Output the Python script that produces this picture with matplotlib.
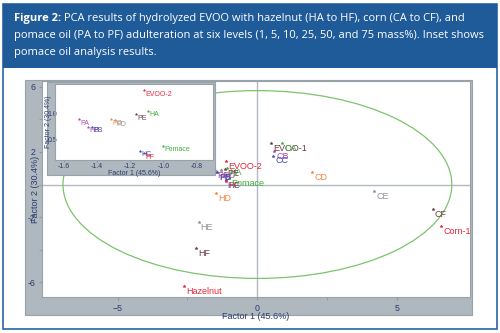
import matplotlib
matplotlib.use('Agg')
import matplotlib.pyplot as plt
from matplotlib.patches import Rectangle, Ellipse

plt.rcParams['font.family'] = ['Liberation Sans', 'DejaVu Sans']

# colours used by the source chart
RED = '#e8243c'
GREEN = '#3fae3a'
MAGENTA = '#b04aa8'
BLUE = '#3652b8'
ORANGE = '#f28540'
GREY = '#8b939c'
MAROON = '#6e3b4c'

# samples that fall in the pomace cluster (shown in main plot and in the inset)
cluster_labels = ['EVOO-2', 'HA', 'PE', 'PC', 'PD', 'PA', 'HB', 'PB', 'HC', 'PF', 'Pomace']
cluster_x = [-1.115, -1.09, -1.166, -1.317, -1.295, -1.51, -1.455, -1.43, -1.14, -1.12, -1.00]
cluster_y = [1.44, 1.04, 0.98, 0.88, 0.86, 0.88, 0.74, 0.74, 0.275, 0.23, 0.37]
cluster_colors = [RED, GREEN, MAROON, ORANGE, GREY, MAGENTA, MAGENTA, BLUE, BLUE, RED, GREEN]

# remaining samples, main plot only
other_labels = ['EVOO-1', 'CA', 'CB', 'CC', 'CD', 'CE', 'CF', 'Corn-1',
                'HD', 'HE', 'HF', 'Hazelnut']
other_x = [0.49, 0.88, 0.61, 0.56, 1.95, 4.18, 6.27, 6.57, -1.48, -2.10, -2.18, -2.63]
other_y = [2.54, 2.55, 2.03, 1.77, 0.77, -0.41, -1.52, -2.54, -0.55, -2.30, -3.90, -6.24]
other_colors = [MAROON, GREEN, MAGENTA, BLUE, ORANGE, GREY, MAROON, RED,
                ORANGE, GREY, MAROON, RED]

# 95% confidence ellipse semi-axes
ell_a, ell_b = 6.95, 5.76

main_xticks = [-5, 0, 5]
main_yticks = [6, 2, -2, -6]
inset_xticks = [-1.6, -1.4, -1.2, -1.0, -0.8]
inset_yticks = [1.0, 0.5]

title_bold = 'Figure 2:'
title_lines = [' PCA results of hydrolyzed EVOO with hazelnut (HA to HF), corn (CA to CF), and',
               'pomace oil (PA to PF) adulteration at six levels (1, 5, 10, 25, 50, and 75 mass%). Inset shows',
               'pomace oil analysis results.']

W, H = 500, 333
fig = plt.figure(figsize=(W / 100, H / 100), dpi=100)


def fx(px):
    return px / W


def fy(py):
    return 1 - py / H


NAVY = '#2a3b6e'
BAND = '#afb8be'
TFONT = ['Open Sans', 'DejaVu Sans']
TSIZE = 8.05

# outer blue frame + header
fig.patches.append(Rectangle((fx(3), fy(329)), fx(494), 325 / H, transform=fig.transFigure,
                             facecolor='white', edgecolor='#2b64a8', lw=1.2, zorder=0))
fig.patches.append(Rectangle((fx(3), fy(68)), fx(494), 64 / H, transform=fig.transFigure,
                             facecolor='#1f5a99', edgecolor='none', zorder=0))

# title text
t = fig.text(fx(14), fy(19), title_bold, color='white', fontsize=TSIZE, fontweight='bold',
             va='center', ha='left', family=TFONT)
fig.canvas.draw()
bb = t.get_window_extent(fig.canvas.get_renderer())
fig.text(bb.x1 / W, fy(19), title_lines[0], color='white', fontsize=TSIZE, va='center',
         ha='left', family=TFONT)
fig.text(fx(14), fy(35.5), title_lines[1], color='white', fontsize=TSIZE, va='center',
         ha='left', family=TFONT)
fig.text(fx(14), fy(52), title_lines[2], color='white', fontsize=TSIZE, va='center',
         ha='left', family=TFONT)

# grey frame behind main axes
fig.patches.append(Rectangle((fx(25), fy(315)), fx(447), 235 / H, transform=fig.transFigure,
                             facecolor=BAND, edgecolor='#98a2a9', lw=0.8, zorder=1))

# main axes
ax = fig.add_axes([fx(42), fy(297), fx(428), 216 / H])
ax.set_zorder(2)
ax.set_facecolor('white')
ax.set_xlim(-7.7, 7.6)
ax.set_ylim(-6.9, 6.35)
ax.axhline(0, color='#b3bbc2', lw=1, zorder=1)
ax.axvline(0, color='#b3bbc2', lw=1, zorder=1)
ax.add_patch(Ellipse((0, 0), 2 * ell_a, 2 * ell_b, facecolor='none', edgecolor='#7cc36c',
                     lw=0.9, zorder=2))

for xs, ys, labs, cols in [(other_x, other_y, other_labels, other_colors),
                           (cluster_x, cluster_y, cluster_labels, cluster_colors)]:
    for x, y, lab, c in zip(xs, ys, labs, cols):
        ax.plot(x, y, marker='*', ms=2.3, mew=0.3, color=c, ls='none', zorder=3)
        ax.annotate(lab, (x, y), xytext=(1.5, -0.5), textcoords='offset points',
                    ha='left', va='top', fontsize=6.5, color=c, zorder=4)

ax.set_xticks(main_xticks)
ax.set_xticks([-2.5, 2.5], minor=True)
ax.set_yticks(main_yticks)
ax.set_yticks([4, 0, -4], minor=True)
ax.set_yticklabels([str(v) for v in main_yticks])
ax.tick_params(which='both', direction='out', length=2, color='#8d979e',
               labelsize=6.3, labelcolor=NAVY, pad=3)
ax.set_xlabel('Factor 1 (45.6%)', fontsize=6.5, color=NAVY, labelpad=-1)
ax.set_ylabel('Factor 2 (30.4%)', fontsize=6.5, color=NAVY, labelpad=-9)
for s in ax.spines.values():
    s.set_color('#98a2a9')
    s.set_linewidth(0.8)

# inset
fig.patches.append(Rectangle((fx(47), fy(175)), fx(168), 93 / H, transform=fig.transFigure,
                             facecolor=BAND, edgecolor='#98a2a9', lw=0.8, zorder=5))
ins = fig.add_axes([fx(55), fy(160), fx(158), 76 / H])
ins.set_zorder(6)
ins.set_facecolor('white')
ins.set_xlim(-1.655, -0.70)
ins.set_ylim(0.10, 1.56)
for x, y, lab, c in zip(cluster_x, cluster_y, cluster_labels, cluster_colors):
    ins.plot(x, y, marker='*', ms=1.8, mew=0.3, color=c, ls='none')
    ins.annotate(lab, (x, y), xytext=(1, -0.3), textcoords='offset points',
                 ha='left', va='top', fontsize=5.0, color=c)
ins.set_xticks(inset_xticks)
ins.set_xticklabels([f'{v:.1f}' for v in inset_xticks])
ins.set_yticks(inset_yticks)
ins.set_yticklabels([f'{v:.1f}' for v in inset_yticks])
ins.tick_params(which='both', direction='out', length=1.5, color='#8d979e',
                labelsize=5.0, labelcolor=NAVY, pad=1)
ins.tick_params(axis='y', pad=-3)
ins.set_xlabel('Factor 1 (45.6%)', fontsize=5.0, color=NAVY, labelpad=0)
ins.set_ylabel('Factor 2 (30.4%)', fontsize=5.0, color=NAVY, labelpad=-3)
for s in ins.spines.values():
    s.set_color('#98a2a9')
    s.set_linewidth(0.8)

fig.savefig('out.png', dpi=100)
